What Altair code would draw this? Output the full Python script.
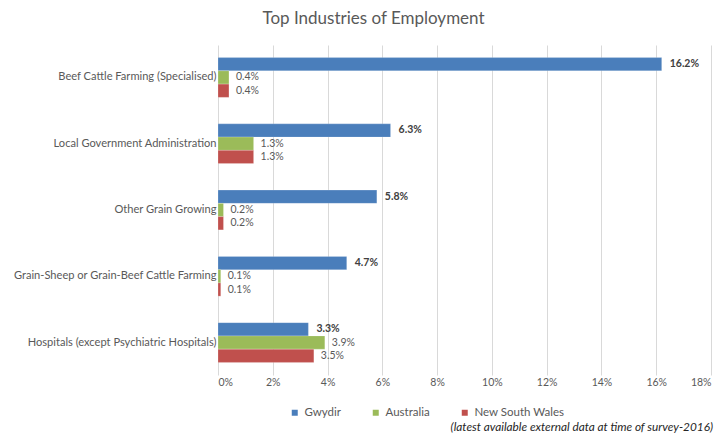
import altair as alt
import pandas as pd

categories = [
    "Beef Cattle Farming (Specialised)",
    "Local Government Administration",
    "Other Grain Growing",
    "Grain-Sheep or Grain-Beef Cattle Farming",
    "Hospitals (except Psychiatric Hospitals)",
]
series = ["Gwydir", "Australia", "New South Wales"]
gwydir = [16.2, 6.3, 5.8, 4.7, 3.3]
australia = [0.4, 1.3, 0.2, 0.1, 3.9]
nsw = [0.4, 1.3, 0.2, 0.1, 3.5]
colors = ["#4A7EBB", "#9BBB59", "#C0504D"]
x_ticks = [0, 2, 4, 6, 8, 10, 12, 14, 16, 18]
note = ["(latest available external data at time of survey-2016)"]

rows = []
for s, vals in zip(series, [gwydir, australia, nsw]):
    for c, v in zip(categories, vals):
        rows.append({"industry": c, "series": s, "value": v, "label": f"{v}%"})
df = pd.DataFrame(rows)

FONT = "Lato"
GRAY = "#595959"

y_enc = alt.Y(
    "industry:N",
    sort=categories,
    title=None,
    scale=alt.Scale(paddingInner=0.4, paddingOuter=0.19),
    axis=alt.Axis(
        ticks=False, domain=False, labelFontSize=11.1, labelColor=GRAY,
        labelFont=FONT, labelPadding=2, labelLimit=260,
    ),
)
yoff = alt.YOffset("series:N", sort=series, scale=alt.Scale(domain=series))
x_enc = alt.X(
    "value:Q",
    title=None,
    scale=alt.Scale(domain=[0, 18], nice=False),
    axis=alt.Axis(
        values=x_ticks, labelExpr="datum.value + '%'", ticks=False, domain=False,
        grid=True, gridColor="#D9D9D9", labelFontSize=10.5, labelColor=GRAY,
        labelFont=FONT, labelPadding=2,
    ),
)

base = alt.Chart(df)

bars = base.mark_bar(stroke="#FFFFFF", strokeOpacity=0.4, strokeWidth=0.5).encode(
    x=x_enc,
    y=y_enc,
    yOffset=yoff,
    color=alt.Color(
        "series:N",
        sort=series,
        scale=alt.Scale(domain=series, range=colors),
        legend=alt.Legend(
            title=None, orient="none", legendX=71, legendY=362, direction="horizontal",
            symbolType="square", symbolSize=36, symbolStrokeWidth=0,
            labelFontSize=11.5, labelColor=GRAY, labelFont=FONT,
            gridAlign="none", columnPadding=29, labelOffset=4,
        ),
    ),
)

labels_bold = base.transform_filter(alt.datum.series == "Gwydir").mark_text(
    align="left", baseline="middle", dx=8, fontSize=10.5, fontWeight="bold",
    color="#404040", font=FONT,
).encode(x="value:Q", y=alt.Y("industry:N", sort=categories), yOffset=yoff, text="label:N")

labels_plain = base.transform_filter(alt.datum.series != "Gwydir").mark_text(
    align="left", baseline="middle", dx=7, fontSize=10.5, color=GRAY, font=FONT,
).encode(x="value:Q", y=alt.Y("industry:N", sort=categories), yOffset=yoff, text="label:N")

note_df = pd.DataFrame({"note": note})
footnote = alt.Chart(note_df).mark_text(
    align="right", baseline="middle", fontSize=11.8, fontStyle="italic",
    color="#262626", font=FONT,
).encode(x=alt.value(495), y=alt.value(382), text="note:N")

chart = (
    alt.layer(bars, labels_bold, labels_plain, footnote)
    .properties(
        width=493,
        height=330,
        title=alt.TitleParams(
            "Top Industries of Employment", fontSize=17, font=FONT, color=GRAY,
            fontWeight="normal", anchor="middle", frame="group", dx=-91, offset=17,
        ),
        autosize=alt.AutoSizeParams(type="none"),
        padding={"left": 210, "top": 37, "right": 6, "bottom": 61},
    )
    .configure_view(stroke=None)
)

chart.save("out.html", embed_options={"renderer": "svg", "actions": False})
